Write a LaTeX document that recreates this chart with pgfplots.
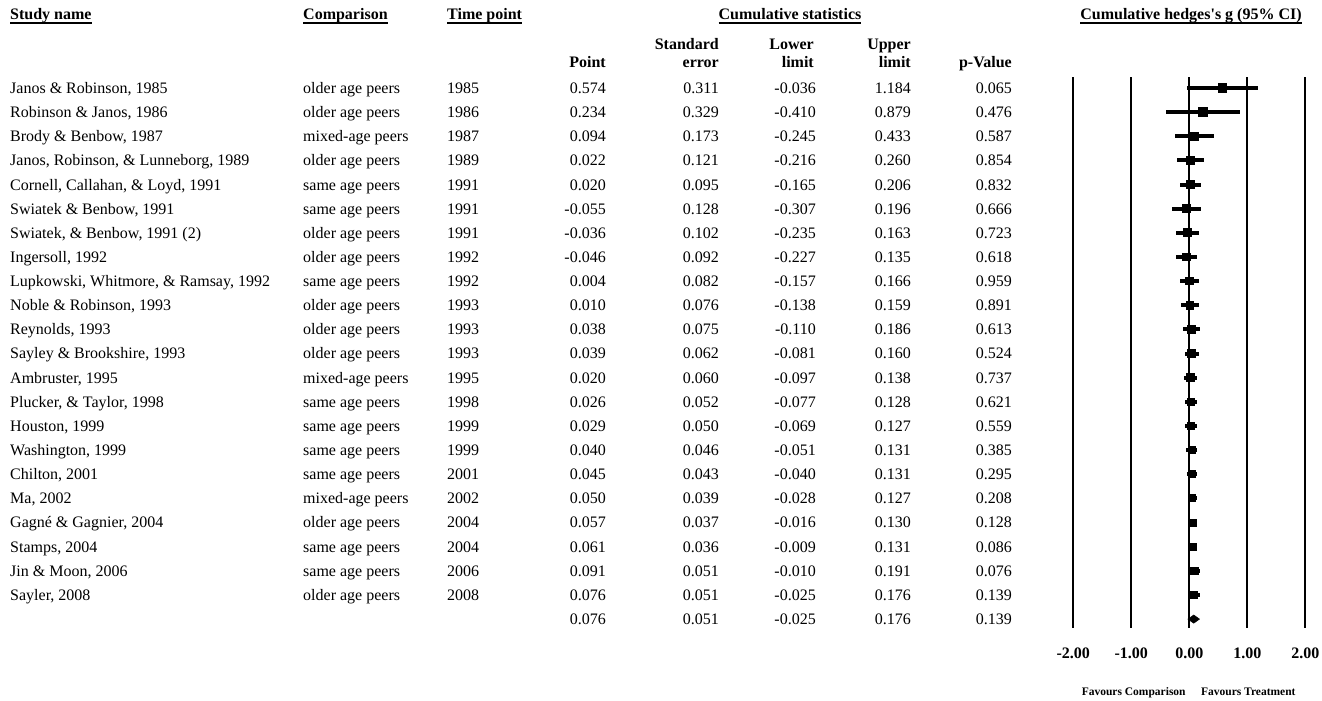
\documentclass[border=0pt]{standalone}
\usepackage{pgfplots}
\pgfplotsset{compat=1.18}
\usepackage{pgfplotstable}
\usepackage{fontspec}
\setmainfont{Liberation Serif}

\pgfplotstableread{
row point lower upper ms
1 0.574 -0.036 1.184 4.3
2 0.234 -0.410 0.879 4.3
3 0.094 -0.245 0.433 4.1
4 0.022 -0.216 0.260 3.9
5 0.020 -0.165 0.206 3.9
6 -0.055 -0.307 0.196 3.9
7 -0.036 -0.235 0.163 3.9
8 -0.046 -0.227 0.135 3.9
9 0.004 -0.157 0.166 3.8
10 0.010 -0.138 0.159 3.8
11 0.038 -0.110 0.186 3.8
12 0.039 -0.081 0.160 3.8
13 0.020 -0.097 0.138 3.8
14 0.026 -0.077 0.128 3.7
15 0.029 -0.069 0.127 3.7
16 0.040 -0.051 0.131 3.6
17 0.045 -0.040 0.131 3.5
18 0.050 -0.028 0.127 3.5
19 0.057 -0.016 0.130 3.5
20 0.061 -0.009 0.131 3.5
21 0.091 -0.010 0.191 3.8
22 0.076 -0.025 0.176 3.5
}\forestdata

\pgfplotstableread{
x y
-0.025 23
0.076 22.83
0.176 23
0.076 23.17
}\summarydata

\newcommand{\ulbf}[1]{\setbox0\hbox{\bfseries #1}\rlap{\rule[-4.3bp]{\wd0}{1.3bp}}\box0}

\newcommand{\trow}[9]{%
 \pgfmathsetmacro{\yy}{93.5+(#1-1)*24.135}%
 \node[anchor=base west] at (10,\yy) {#2};
 \node[anchor=base west] at (303,\yy) {#3};
 \node[anchor=base west] at (447,\yy) {#4};
 \node[anchor=base east] at (606,\yy) {#5};
 \node[anchor=base east] at (719,\yy) {#6};
 \node[anchor=base east] at (816,\yy) {#7};
 \node[anchor=base east] at (911,\yy) {#8};
 \node[anchor=base east] at (1012,\yy) {#9};
}

\begin{document}
\begin{tikzpicture}
\begin{scope}[x=1bp,y=-1bp,every node/.style={inner sep=0pt,font=\fontsize{16bp}{19bp}\selectfont}]
\useasboundingbox (0,0) rectangle (1322,700);
% headers
\node[anchor=base west] at (10,19.5) {\ulbf{Study name}};
\node[anchor=base west] at (303,19.5) {\ulbf{Comparison}};
\node[anchor=base west] at (447,19.5) {\ulbf{Time point}};
\node[anchor=base] at (790,19.5) {\ulbf{Cumulative statistics}};
\node[anchor=base] at (1191,19.5) {\ulbf{Cumulative hedges\textquotesingle s g (95\% CI)}};
\node[anchor=base east] at (606,68) {\bfseries Point};
\node[anchor=base east] at (719,49.5) {\bfseries Standard};
\node[anchor=base east] at (719,68) {\bfseries error};
\node[anchor=base east] at (814,49.5) {\bfseries Lower};
\node[anchor=base east] at (814,68) {\bfseries limit};
\node[anchor=base east] at (911,49.5) {\bfseries Upper};
\node[anchor=base east] at (911,68) {\bfseries limit};
\node[anchor=base east] at (1012,68) {\bfseries p-Value};
% rows
\trow{1}{Janos \& Robinson, 1985}{older age peers}{1985}{0.574}{0.311}{-0.036}{1.184}{0.065}
\trow{2}{Robinson \& Janos, 1986}{older age peers}{1986}{0.234}{0.329}{-0.410}{0.879}{0.476}
\trow{3}{Brody \& Benbow, 1987}{mixed-age peers}{1987}{0.094}{0.173}{-0.245}{0.433}{0.587}
\trow{4}{Janos, Robinson, \& Lunneborg, 1989}{older age peers}{1989}{0.022}{0.121}{-0.216}{0.260}{0.854}
\trow{5}{Cornell, Callahan, \& Loyd, 1991}{same age peers}{1991}{0.020}{0.095}{-0.165}{0.206}{0.832}
\trow{6}{Swiatek \& Benbow, 1991}{same age peers}{1991}{-0.055}{0.128}{-0.307}{0.196}{0.666}
\trow{7}{Swiatek, \& Benbow, 1991 (2)}{older age peers}{1991}{-0.036}{0.102}{-0.235}{0.163}{0.723}
\trow{8}{Ingersoll, 1992}{older age peers}{1992}{-0.046}{0.092}{-0.227}{0.135}{0.618}
\trow{9}{Lupkowski, Whitmore, \& Ramsay, 1992}{same age peers}{1992}{0.004}{0.082}{-0.157}{0.166}{0.959}
\trow{10}{Noble \& Robinson, 1993}{older age peers}{1993}{0.010}{0.076}{-0.138}{0.159}{0.891}
\trow{11}{Reynolds, 1993}{older age peers}{1993}{0.038}{0.075}{-0.110}{0.186}{0.613}
\trow{12}{Sayley \& Brookshire, 1993}{older age peers}{1993}{0.039}{0.062}{-0.081}{0.160}{0.524}
\trow{13}{Ambruster, 1995}{mixed-age peers}{1995}{0.020}{0.060}{-0.097}{0.138}{0.737}
\trow{14}{Plucker, \& Taylor, 1998}{same age peers}{1998}{0.026}{0.052}{-0.077}{0.128}{0.621}
\trow{15}{Houston, 1999}{same age peers}{1999}{0.029}{0.050}{-0.069}{0.127}{0.559}
\trow{16}{Washington, 1999}{same age peers}{1999}{0.040}{0.046}{-0.051}{0.131}{0.385}
\trow{17}{Chilton, 2001}{same age peers}{2001}{0.045}{0.043}{-0.040}{0.131}{0.295}
\trow{18}{Ma, 2002}{mixed-age peers}{2002}{0.050}{0.039}{-0.028}{0.127}{0.208}
\trow{19}{Gagné \& Gagnier, 2004}{older age peers}{2004}{0.057}{0.037}{-0.016}{0.130}{0.128}
\trow{20}{Stamps, 2004}{same age peers}{2004}{0.061}{0.036}{-0.009}{0.131}{0.086}
\trow{21}{Jin \& Moon, 2006}{same age peers}{2006}{0.091}{0.051}{-0.010}{0.191}{0.076}
\trow{22}{Sayler, 2008}{older age peers}{2008}{0.076}{0.051}{-0.025}{0.176}{0.139}
\trow{23}{}{}{}{0.076}{0.051}{-0.025}{0.176}{0.139}
% favours labels
\node[anchor=base,font=\bfseries\fontsize{11.5bp}{13bp}\selectfont] at (1133.7,695) {Favours Comparison};
\node[anchor=base,font=\bfseries\fontsize{11.5bp}{13bp}\selectfont] at (1248.3,695) {Favours Treatment};
\end{scope}
\begin{axis}[
  at={(1073.3bp,-628bp)}, anchor=south west,
  width=232bp, height=551bp, scale only axis,
  xmin=-2, xmax=2, ymin=0.545, ymax=23.37, y dir=reverse,
  axis line style={draw=none},
  major tick length=0pt,
  ytick=\empty,
  xtick={-2,-1,0,1,2},
  xticklabels={-2.00,-1.00,0.00,1.00,2.00},
  xticklabel style={font=\bfseries\fontsize{16bp}{19bp}\selectfont, anchor=base, yshift=-30.3bp, inner sep=0pt},
  xmajorgrids, grid style={black, line width=2bp},
  clip=false,
]
\addplot[forget plot, only marks, mark=none,
  error bars/.cd, x dir=both, x explicit, error mark=none,
  error bar style={draw=black, line width=4bp}]
  table[x=point, y=row,
        x error plus expr=\thisrow{upper}-\thisrow{point},
        x error minus expr=\thisrow{point}-\thisrow{lower}] {\forestdata};
\addplot[scatter, only marks, mark=square*,
  scatter/use mapped color={draw=black, fill=black},
  visualization depends on={\thisrow{ms}\as\ms},
  scatter/@pre marker code/.append style={/tikz/mark size=\ms},
  mark options={line width=0pt}]
  table[x=point, y=row] {\forestdata};
\addplot[fill=black, draw=black, line width=0.5bp] table[x=x, y=y] {\summarydata} -- cycle;
\end{axis}
\end{tikzpicture}
\end{document}
